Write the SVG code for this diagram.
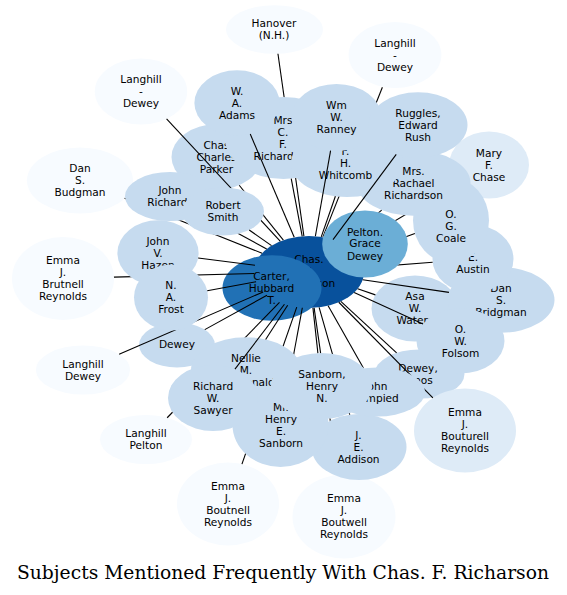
<svg xmlns="http://www.w3.org/2000/svg" width="567" height="595" viewBox="0 0 567 595">
<style>
.t{font-family:"DejaVu Sans","Liberation Sans",sans-serif;font-size:10.6px;text-anchor:middle;fill:#000}
.c1{fill:#f7fbff}.c2{fill:#deebf7}.c3{fill:#c6dbef}.c5{fill:#6baed6}.c7{fill:#2171b5}.c8{fill:#08519c}
.e line{stroke:#000;stroke-width:1.1}
.k{fill:#000}
.title{font-family:"DejaVu Serif","Liberation Serif",serif;font-size:18.6px;text-anchor:middle;fill:#000}
</style>
<defs>
<mask id="m-budgman" maskUnits="userSpaceOnUse" x="0" y="0" width="567" height="595"><rect width="567" height="595" fill="#fff"/><ellipse class="k" cx="170" cy="196.5" rx="45" ry="24.5"/><ellipse class="k" cx="223" cy="211.5" rx="41" ry="24"/></mask>
<mask id="m-brutnell" maskUnits="userSpaceOnUse" x="0" y="0" width="567" height="595"><rect width="567" height="595" fill="#fff"/><ellipse class="k" cx="158" cy="253" rx="40.6" ry="32.7"/><ellipse class="k" cx="171" cy="297.5" rx="37" ry="33"/></mask>
<mask id="m-ldl" maskUnits="userSpaceOnUse" x="0" y="0" width="567" height="595"><rect width="567" height="595" fill="#fff"/><ellipse class="k" cx="171" cy="297.5" rx="37" ry="33"/></mask>
<mask id="m-rs" maskUnits="userSpaceOnUse" x="0" y="0" width="567" height="595"><rect width="567" height="595" fill="#fff"/><ellipse class="k" cx="223" cy="211.5" rx="41" ry="24"/></mask>
<mask id="m-hanover" maskUnits="userSpaceOnUse" x="0" y="0" width="567" height="595"><rect width="567" height="595" fill="#fff"/><ellipse class="k" cx="283.5" cy="138" rx="58.7" ry="41"/></mask>
<mask id="m-ltr" maskUnits="userSpaceOnUse" x="0" y="0" width="567" height="595"><rect width="567" height="595" fill="#fff"/><ellipse class="k" cx="347" cy="163" rx="56" ry="34"/><ellipse class="k" cx="336.5" cy="117.5" rx="45" ry="33.5"/><ellipse class="k" cx="365" cy="244" rx="42.8" ry="33.5"/><ellipse class="k" cx="418" cy="125" rx="49.5" ry="32.7"/></mask>
<mask id="m-mary" maskUnits="userSpaceOnUse" x="0" y="0" width="567" height="595"><rect width="567" height="595" fill="#fff"/><ellipse class="k" cx="451" cy="220.3" rx="38" ry="42.5"/><ellipse class="k" cx="413.5" cy="183" rx="57" ry="32.7"/><ellipse class="k" cx="365" cy="244" rx="42.8" ry="33.5"/></mask>
<mask id="m-pelton" maskUnits="userSpaceOnUse" x="0" y="0" width="567" height="595"><rect width="567" height="595" fill="#fff"/><ellipse class="k" cx="365" cy="244" rx="42.8" ry="33.5"/></mask>
<mask id="m-john" maskUnits="userSpaceOnUse" x="0" y="0" width="567" height="595"><rect width="567" height="595" fill="#fff"/><ellipse class="k" cx="377" cy="392" rx="48" ry="24.5"/></mask>
<mask id="m-boutwell" maskUnits="userSpaceOnUse" x="0" y="0" width="567" height="595"><rect width="567" height="595" fill="#fff"/><ellipse class="k" cx="359" cy="447" rx="47.5" ry="33"/><ellipse class="k" cx="321.5" cy="386" rx="50.5" ry="33"/></mask>
<mask id="m-addison" maskUnits="userSpaceOnUse" x="0" y="0" width="567" height="595"><rect width="567" height="595" fill="#fff"/><ellipse class="k" cx="377" cy="392" rx="48" ry="24.5"/><ellipse class="k" cx="321.5" cy="386" rx="50.5" ry="33"/></mask>
<mask id="m-sanborn" maskUnits="userSpaceOnUse" x="0" y="0" width="567" height="595"><rect width="567" height="595" fill="#fff"/><ellipse class="k" cx="321.5" cy="386" rx="50.5" ry="33"/></mask>
<mask id="m-lp" maskUnits="userSpaceOnUse" x="0" y="0" width="567" height="595"><rect width="567" height="595" fill="#fff"/><ellipse class="k" cx="213" cy="398" rx="45" ry="33"/><ellipse class="k" cx="246" cy="370" rx="55" ry="32.7"/></mask>
<mask id="m-boutnell" maskUnits="userSpaceOnUse" x="0" y="0" width="567" height="595"><rect width="567" height="595" fill="#fff"/><ellipse class="k" cx="280.5" cy="425" rx="48" ry="42"/><ellipse class="k" cx="246" cy="370" rx="55" ry="32.7"/></mask>
<mask id="m-mrhes" maskUnits="userSpaceOnUse" x="0" y="0" width="567" height="595"><rect width="567" height="595" fill="#fff"/><ellipse class="k" cx="246" cy="370" rx="55" ry="32.7"/><ellipse class="k" cx="321.5" cy="386" rx="50.5" ry="33"/></mask>
</defs>
<rect width="567" height="595" fill="#fff"/>
<g id="nodes">
<g id="n-center"><ellipse class="c8" cx="309" cy="272" rx="55" ry="36"/><text class="t"><tspan x="309" y="263.3">Chas.</tspan><tspan x="309" y="275.3">F.</tspan><tspan x="309" y="287.3">Richarson</tspan></text></g>
<g id="n-carter"><ellipse class="c7" cx="272" cy="288" rx="49.5" ry="32.7"/><text class="t"><tspan x="271.5" y="279.8">Carter,</tspan><tspan x="271.5" y="291.8">Hubbard</tspan><tspan x="271.5" y="304.3">T.</tspan></text></g>
<g id="n-budgman"><ellipse class="c1" cx="80" cy="180.5" rx="53" ry="33"/><text class="t"><tspan x="80" y="172.3">Dan</tspan><tspan x="80" y="184.3">S.</tspan><tspan x="80" y="196.3">Budgman</tspan></text></g>
<g id="n-brutnell"><ellipse class="c1" cx="63" cy="278.5" rx="51" ry="41.5"/><text class="t"><tspan x="63" y="264.3">Emma</tspan><tspan x="63" y="276.3">J.</tspan><tspan x="63" y="288.3">Brutnell</tspan><tspan x="63" y="300.3">Reynolds</tspan></text></g>
<g id="n-hazen"><ellipse class="c3" cx="158" cy="253" rx="40.6" ry="32.7"/><text class="t"><tspan x="158" y="244.8">John</tspan><tspan x="158" y="256.8">V.</tspan><tspan x="158" y="268.8">Hazen</tspan></text></g>
<g id="n-dewey"><ellipse class="c3" cx="177" cy="345" rx="38" ry="22.5"/><text class="t"><tspan x="177" y="347.8">Dewey</tspan></text></g>
<g id="n-langhill-dewey-l"><ellipse class="c1" cx="83" cy="370" rx="47" ry="24.5"/><text class="t"><tspan x="83" y="367.8">Langhill</tspan><tspan x="83" y="379.8">Dewey</tspan></text></g>
<g id="n-frost"><ellipse class="c3" cx="171" cy="297.5" rx="37" ry="33"/><text class="t"><tspan x="171" y="289.3">N.</tspan><tspan x="171" y="301.3">A.</tspan><tspan x="171" y="313.3">Frost</tspan></text></g>
<g id="n-parker"><ellipse class="c3" cx="216.5" cy="157" rx="45" ry="32.7"/><text class="t"><tspan x="216.5" y="148.8">Chas</tspan><tspan x="216.5" y="160.8">Charles</tspan><tspan x="216.5" y="172.8">Parker</tspan></text></g>
<g id="n-langhill-dewey-tl"><ellipse class="c1" cx="141" cy="91.5" rx="46.2" ry="33"/><text class="t"><tspan x="141" y="83.3">Langhill</tspan><tspan x="141" y="95.3">-</tspan><tspan x="141" y="107.3">Dewey</tspan></text></g>
<g id="n-john-richards"><ellipse class="c3" cx="170" cy="196.5" rx="45" ry="24.5"/><text class="t"><tspan x="170" y="194.3">John</tspan><tspan x="170" y="206.3">Richards</tspan></text></g>
<g id="n-robert-smith"><ellipse class="c3" cx="223" cy="211.5" rx="41" ry="24"/><text class="t"><tspan x="223" y="209.3">Robert</tspan><tspan x="223" y="221.3">Smith</tspan></text></g>
<g id="n-hanover"><ellipse class="c1" cx="274.5" cy="29.5" rx="48.4" ry="24.3"/><text class="t"><tspan x="274" y="27">Hanover</tspan><tspan x="274" y="39">(N.H.)</tspan></text></g>
<g id="n-mrs-cf-richardson"><ellipse class="c3" cx="283.5" cy="138" rx="58.7" ry="41"/><text class="t"><tspan x="283" y="123.8">Mrs</tspan><tspan x="283" y="135.8">C.</tspan><tspan x="283" y="147.8">F.</tspan><tspan x="283" y="159.8">Richardson</tspan></text></g>
<g id="n-adams"><ellipse class="c3" cx="237" cy="103" rx="42.6" ry="32.7"/><text class="t"><tspan x="237" y="94.8">W.</tspan><tspan x="237" y="106.8">A.</tspan><tspan x="237" y="118.8">Adams</tspan></text></g>
<g id="n-langhill-dewey-tr"><ellipse class="c1" cx="395" cy="55" rx="46.4" ry="33"/><text class="t"><tspan x="395" y="46.8">Langhill</tspan><tspan x="395" y="58.8">-</tspan><tspan x="395" y="70.8">Dewey</tspan></text></g>
<g id="n-mary-chase"><ellipse class="c2" cx="489" cy="165" rx="40" ry="33.5"/><text class="t"><tspan x="489" y="157.1">Mary</tspan><tspan x="489" y="169.1">F.</tspan><tspan x="489" y="181.1">Chase</tspan></text></g>
<g id="n-asa"><ellipse class="c3" cx="415" cy="308.5" rx="43.5" ry="33"/><text class="t"><tspan x="415" y="300.3">Asa</tspan><tspan x="415" y="312.3">W.</tspan><tspan x="415" y="324.3">Waters</tspan></text></g>
<g id="n-bridgman"><ellipse class="c3" cx="501" cy="300" rx="53.5" ry="32.7"/><text class="t"><tspan x="501" y="292.1">Dan</tspan><tspan x="501" y="304.1">S.</tspan><tspan x="501" y="316.1">Bridgman</tspan></text></g>
<g id="n-austin"><ellipse class="c3" cx="473" cy="259" rx="40.5" ry="34"/><text class="t"><tspan x="473" y="261.1">E.</tspan><tspan x="473" y="273.1">Austin</tspan></text></g>
<g id="n-coale"><ellipse class="c3" cx="451" cy="220.3" rx="38" ry="42.5"/><text class="t"><tspan x="451" y="218.1">O.</tspan><tspan x="451" y="230.1">G.</tspan><tspan x="451" y="242.1">Coale</tspan></text></g>
<g id="n-rachael"><ellipse class="c3" cx="413.5" cy="183" rx="57" ry="32.7"/><text class="t"><tspan x="413.5" y="174.8">Mrs.</tspan><tspan x="413.5" y="186.8">Rachael</tspan><tspan x="413.5" y="198.8">Richardson</tspan></text></g>
<g id="n-whitcomb"><ellipse class="c3" cx="347" cy="163" rx="56" ry="34"/><text class="t"><tspan x="345.5" y="154.8">F.</tspan><tspan x="345.5" y="166.8">H.</tspan><tspan x="345.5" y="178.8">Whitcomb</tspan></text></g>
<g id="n-ranney"><ellipse class="c3" cx="336.5" cy="117.5" rx="45" ry="33.5"/><text class="t"><tspan x="336.5" y="108.8">Wm</tspan><tspan x="336.5" y="120.8">W.</tspan><tspan x="336.5" y="132.8">Ranney</tspan></text></g>
<g id="n-pelton"><ellipse class="c5" cx="365" cy="244" rx="42.8" ry="33.5"/><text class="t"><tspan x="365" y="235.5">Pelton.</tspan><tspan x="365" y="247.3">Grace</tspan><tspan x="365" y="259.5">Dewey</tspan></text></g>
<g id="n-ruggles"><ellipse class="c3" cx="418" cy="125" rx="49.5" ry="32.7"/><text class="t"><tspan x="418" y="116.8">Ruggles,</tspan><tspan x="418" y="128.8">Edward</tspan><tspan x="418" y="140.8">Rush</tspan></text></g>
<g id="n-dewey-amos"><ellipse class="c3" cx="419.5" cy="374" rx="45" ry="24.5"/><text class="t"><tspan x="418" y="371.8">Dewey,</tspan><tspan x="418" y="383.8">Amos</tspan></text></g>
<g id="n-folsom"><ellipse class="c3" cx="460.5" cy="341" rx="44" ry="32.5"/><text class="t"><tspan x="460.5" y="332.8">O.</tspan><tspan x="460.5" y="344.8">W.</tspan><tspan x="460.5" y="356.8">Folsom</tspan></text></g>
<g id="n-bouturell"><ellipse class="c2" cx="465" cy="430.5" rx="51" ry="42"/><text class="t"><tspan x="465" y="416.3">Emma</tspan><tspan x="465" y="428.3">J.</tspan><tspan x="465" y="440.3">Bouturell</tspan><tspan x="465" y="452.3">Reynolds</tspan></text></g>
<g id="n-boutwell"><ellipse class="c1" cx="344" cy="516.5" rx="51.5" ry="42"/><text class="t"><tspan x="344" y="501.8">Emma</tspan><tspan x="344" y="513.8">J.</tspan><tspan x="344" y="525.8">Boutwell</tspan><tspan x="344" y="537.8">Reynolds</tspan></text></g>
<g id="n-addison"><ellipse class="c3" cx="359" cy="447" rx="47.5" ry="33"/><text class="t"><tspan x="358.5" y="439.1">J.</tspan><tspan x="358.5" y="451.1">E.</tspan><tspan x="358.5" y="463.1">Addison</tspan></text></g>
<g id="n-john-lampied"><ellipse class="c3" cx="377" cy="392" rx="48" ry="24.5"/><text class="t"><tspan x="376" y="389.8">John</tspan><tspan x="376" y="401.8">Lampied</tspan></text></g>
<g id="n-langhill-pelton"><ellipse class="c1" cx="146" cy="439.5" rx="46" ry="24.5"/><text class="t"><tspan x="146" y="436.8">Langhill</tspan><tspan x="146" y="448.8">Pelton</tspan></text></g>
<g id="n-boutnell"><ellipse class="c1" cx="228" cy="504" rx="51" ry="41.5"/><text class="t"><tspan x="228" y="489.8">Emma</tspan><tspan x="228" y="501.8">J.</tspan><tspan x="228" y="513.8">Boutnell</tspan><tspan x="228" y="525.8">Reynolds</tspan></text></g>
<g id="n-mr-henry-e-sanborn"><ellipse class="c3" cx="280.5" cy="425" rx="48" ry="42"/><text class="t"><tspan x="281" y="410.8">Mr.</tspan><tspan x="281" y="422.8">Henry</tspan><tspan x="281" y="434.8">E.</tspan><tspan x="281" y="446.8">Sanborn</tspan></text></g>
<g id="n-nellie"><ellipse class="c3" cx="246" cy="370" rx="55" ry="32.7"/><text class="t"><tspan x="246" y="362.1">Nellie</tspan><tspan x="246" y="374.1">M.</tspan><tspan x="246" y="386.1">Macdonald</tspan></text></g>
<g id="n-sawyer"><ellipse class="c3" cx="213" cy="398" rx="45" ry="33"/><text class="t"><tspan x="213" y="389.8">Richard</tspan><tspan x="213" y="401.8">W.</tspan><tspan x="213" y="413.8">Sawyer</tspan></text></g>
<g id="n-sanborn-henry-n"><ellipse class="c3" cx="321.5" cy="386" rx="50.5" ry="33"/><text class="t"><tspan x="322" y="377.8">Sanborn,</tspan><tspan x="322" y="389.8">Henry</tspan><tspan x="322" y="401.8">N.</tspan></text></g>
</g>
<g id="connectors" class="e">
<line x1="124.6" y1="198.32" x2="262.06" y2="253.24" mask="url(#m-budgman)"/>
<line x1="113.97" y1="277.15" x2="254.05" y2="273.45" mask="url(#m-brutnell)"/>
<line x1="198.11" y1="258.05" x2="254.99" y2="265.2"/>
<line x1="204.77" y1="329.64" x2="266.99" y2="295.23"/>
<line x1="119.13" y1="354.33" x2="263.15" y2="291.88" mask="url(#m-ldl)"/>
<line x1="207.23" y1="290.81" x2="256.07" y2="281.78"/>
<line x1="239.21" y1="185.23" x2="283.38" y2="240.14" mask="url(#m-rs)"/>
<line x1="166.58" y1="118.98" x2="280.38" y2="241.26" mask="url(#m-rs)"/>
<line x1="201.86" y1="213.8" x2="266.68" y2="249.01" mask="url(#m-rs)"/>
<line x1="249.22" y1="229.95" x2="271.53" y2="245.64"/>
<line x1="277.95" y1="53.74" x2="303.9" y2="236.16" mask="url(#m-hanover)"/>
<line x1="291.23" y1="178.64" x2="302.2" y2="236.28"/>
<line x1="250.24" y1="134.08" x2="294.23" y2="237.33"/>
<line x1="382.39" y1="87.26" x2="322.84" y2="237.16" mask="url(#m-ltr)"/>
<line x1="456.38" y1="184.39" x2="349.71" y2="247.8" mask="url(#m-mary)"/>
<line x1="375.39" y1="294.86" x2="357.67" y2="288.76"/>
<line x1="448.96" y1="292.41" x2="362.68" y2="279.83"/>
<line x1="432.68" y1="262.2" x2="363.6" y2="267.67" mask="url(#m-pelton)"/>
<line x1="414.87" y1="233.45" x2="357.06" y2="254.5" mask="url(#m-pelton)"/>
<line x1="381.65" y1="210.12" x2="342.51" y2="243.46" mask="url(#m-pelton)"/>
<line x1="335.4" y1="196.27" x2="321.24" y2="236.9"/>
<line x1="330.59" y1="150.71" x2="315.36" y2="236.24"/>
<line x1="396.22" y1="154.37" x2="333.02" y2="239.61"/>
<line x1="396.64" y1="352.9" x2="340.82" y2="301.37"/>
<line x1="423.05" y1="323.94" x2="354.15" y2="292.56"/>
<line x1="432.89" y1="397.87" x2="338.79" y2="302.26" mask="url(#m-john)"/>
<line x1="338.03" y1="474.79" x2="314.13" y2="307.85" mask="url(#m-boutwell)"/>
<line x1="349.75" y1="414.63" x2="319.11" y2="307.38" mask="url(#m-addison)"/>
<line x1="363.66" y1="368.47" x2="328.13" y2="305.76" mask="url(#m-sanborn)"/>
<line x1="167.17" y1="417.75" x2="279.48" y2="302.35" mask="url(#m-lp)"/>
<line x1="241.94" y1="464.08" x2="296.75" y2="307.09" mask="url(#m-boutnell)"/>
<line x1="288.22" y1="383.54" x2="302.34" y2="307.74" mask="url(#m-mrhes)"/>
<line x1="265.64" y1="339.46" x2="287.67" y2="305.18"/>
<line x1="234.95" y1="369.19" x2="284.45" y2="304.22"/>
<line x1="317.89" y1="353.09" x2="312.94" y2="307.91"/>
</g>
<text class="title" x="283" y="579" textLength="532" lengthAdjust="spacingAndGlyphs">Subjects Mentioned Frequently With Chas. F. Richarson</text>
</svg>
